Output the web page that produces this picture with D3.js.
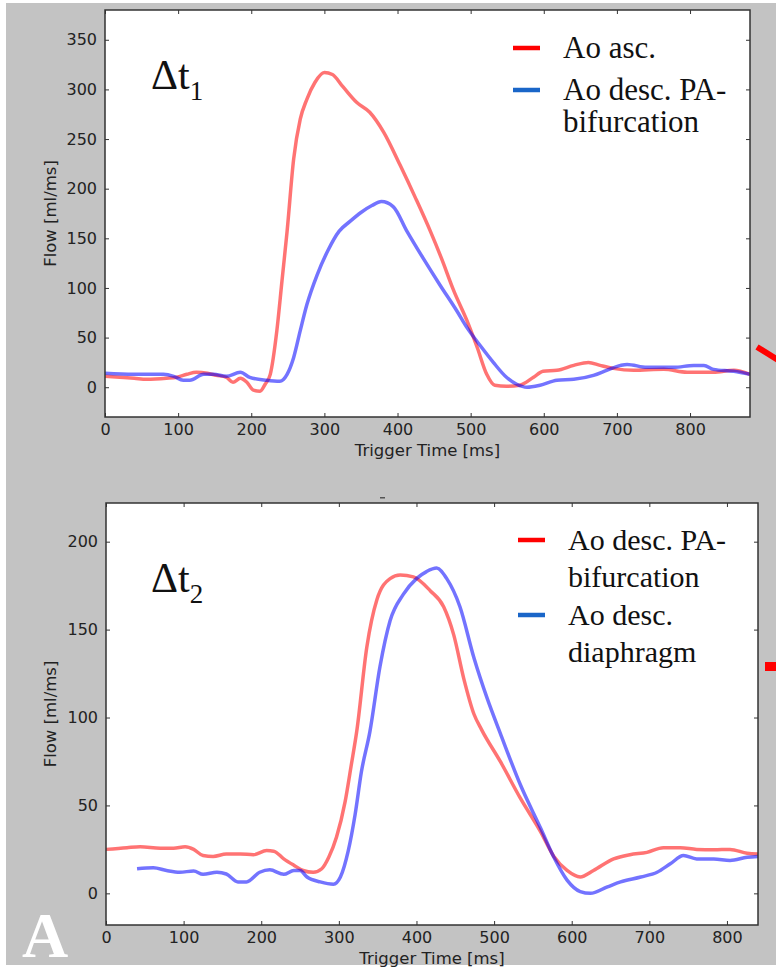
<!DOCTYPE html>
<html lang="en">
<head>
  <meta charset="UTF-8">
  <title>Flow curves</title>
  <script src="https://d3js.org/d3.v7.min.js"></script>
  <style>
    body { margin: 0; background: #fff; }
    svg { display: block; }
    .tick text { font-family: "DejaVu Sans", sans-serif; font-size: 16px; fill: #222; }
    .tick line { stroke: #333; stroke-width: 1; }
    .axis-label { font-family: "DejaVu Sans", sans-serif; font-size: 16.5px; fill: #222; }
    .serif { font-family: "Liberation Serif", "Times New Roman", serif; fill: #111; }
  </style>
</head>
<body>
<svg id="chart" width="776" height="970"></svg>
<script>
// panel 1: Ao asc. vs Ao desc. PA-bifurcation
const ascTime = [0, 20, 40, 57, 84, 98, 112, 125, 140, 152, 166, 175, 185, 194, 203, 212, 219, 226, 235, 242,
  249, 258, 267, 276, 287, 300, 311, 325, 344, 362, 381, 404, 425, 445, 460, 477, 495, 509, 522, 533,
  549, 567, 586, 599, 618, 641, 661, 677, 695, 723, 764, 796, 832, 860, 882];
const ascFlow = [11, 10, 9, 8, 9, 10, 13, 15, 14, 12, 10, 5, 9, 5, -3, -4, 3, 13, 57, 107,
  157, 230, 270, 290, 307, 317, 315, 303, 287, 277, 257, 223, 190, 157, 130, 97, 67, 40, 13, 2,
  1, 2, 10, 16, 17, 22, 25, 22, 19, 17, 18, 15, 15, 17, 13];
const paTime1 = [0, 39, 80, 94, 107, 116, 135, 148, 166, 185, 198, 221, 239, 249, 258, 267, 276, 290, 305, 320,
  335, 350, 365, 378, 394, 413, 435, 458, 481, 495, 513, 531, 549, 563, 577, 595, 618, 641, 668, 686,
  705, 714, 741, 778, 805, 819, 832, 860, 882];
const paFlow1 = [14, 13, 13, 11, 7, 7, 13, 13, 11, 15, 10, 7, 6, 13, 30, 57, 83, 113, 138, 157,
  167, 176, 183, 187, 182, 157, 130, 103, 77, 60, 42, 25, 10, 3, 0, 2, 7, 8, 12, 17,
  22, 23, 20, 20, 22, 22, 18, 16, 13];

// panel 2: Ao desc. PA-bifurcation vs Ao desc. diaphragm
const paTime2 = [0, 27, 44, 70, 87, 102, 113, 125, 138, 155, 173, 190, 207, 216, 229, 242, 254, 267, 278, 287,
  297, 308, 316, 323, 336, 349, 366, 379, 396, 418, 435, 448, 461, 474, 484, 508, 534, 560, 577, 594,
  611, 628, 654, 675, 697, 718, 740, 761, 783, 804, 826, 840];
const paFlow2 = [25, 26, 26.5, 25.7, 25.7, 26.5, 25, 21.5, 21, 22.4, 22.4, 22, 24.3, 24, 19.6, 16, 13, 12, 14, 20.5,
  32, 52, 73, 92, 140, 167, 179, 181, 180, 172, 163, 147, 122, 102, 93, 75, 54, 35, 21, 13,
  9.3, 13, 19.6, 22, 23.3, 26, 26, 25, 24.8, 25, 22.8, 22.4];
const diaTime = [40, 61, 78, 95, 113, 125, 143, 155, 170, 181, 198, 211, 229, 242, 250, 259, 276, 293, 302, 312,
  321, 329, 340, 353, 366, 383, 400, 413, 426, 439, 456, 474, 491, 508, 534, 560, 577, 594, 611, 624,
  646, 663, 689, 710, 727, 744, 761, 783, 804, 826, 840];
const diaFlow = [14, 14.6, 13, 12, 12.7, 10.8, 12, 11, 6.5, 6.5, 12, 13.4, 10.8, 13, 13, 9.3, 6.5, 5.2, 9.3, 24,
  45, 69, 92, 129, 155, 170, 179, 183, 185, 179, 163, 134, 111, 91, 61.6, 37, 20.5, 7.5, 1, 0,
  3.7, 6.5, 9.3, 12, 16.8, 21.5, 19.6, 19.6, 18.7, 20.5, 21];

const xTicks = [0, 100, 200, 300, 400, 500, 600, 700, 800];
const yTicks1 = [0, 50, 100, 150, 200, 250, 300, 350];
const yTicks2 = [0, 50, 100, 150, 200];
const legend1 = [["Ao asc."], ["Ao desc. PA-", "bifurcation"]];
const legend2 = [["Ao desc. PA-", "bifurcation"], ["Ao desc.", "diaphragm"]];

const svg = d3.select("#chart");

// gray page background
svg.append("rect").attr("x", 6).attr("y", 3).attr("width", 770).attr("height", 962).attr("fill", "#c3c3c3");

function panel(opt) {
  const x = d3.scaleLinear().domain(opt.xDomain).range([opt.left, opt.right]);
  const y = d3.scaleLinear().domain(opt.yDomain).range([opt.bottom, opt.top]);
  const w = opt.right - opt.left, h = opt.bottom - opt.top;

  svg.append("rect").attr("x", opt.left).attr("y", opt.top).attr("width", w).attr("height", h).attr("fill", "#fff");

  const clipId = "clip" + opt.id;
  svg.append("clipPath").attr("id", clipId)
    .append("rect").attr("x", opt.left).attr("y", opt.top).attr("width", w).attr("height", h);

  const line = d3.line().x(d => x(d[0])).y(d => y(d[1])).curve(d3.curveMonotoneX);
  const lines = svg.append("g").attr("clip-path", `url(#${clipId})`);
  opt.series.forEach(s => {
    lines.append("path")
      .datum(s.time.map((t, i) => [t, s.flow[i]]))
      .attr("d", line)
      .attr("fill", "none")
      .attr("stroke", s.color)
      .attr("stroke-opacity", 0.55)
      .attr("stroke-width", 3.5)
      .attr("stroke-linejoin", "round");
  });

  // axes with inward ticks, matplotlib classic look
  svg.append("g").attr("transform", `translate(0,${opt.bottom})`)
    .call(d3.axisBottom(x).tickValues(xTicks).tickSize(-4).tickPadding(7))
    .call(g => g.select(".domain").remove());
  svg.append("g").attr("transform", `translate(0,${opt.top})`)
    .call(d3.axisTop(x).tickValues(xTicks).tickSize(-4).tickFormat(""))
    .call(g => g.select(".domain").remove());
  svg.append("g").attr("transform", `translate(${opt.left},0)`)
    .call(d3.axisLeft(y).tickValues(opt.yTicks).tickSize(-4).tickPadding(8))
    .call(g => g.select(".domain").remove());
  svg.append("g").attr("transform", `translate(${opt.right},0)`)
    .call(d3.axisRight(y).tickValues(opt.yTicks).tickSize(-4).tickFormat(""))
    .call(g => g.select(".domain").remove());

  svg.append("rect").attr("x", opt.left).attr("y", opt.top).attr("width", w).attr("height", h)
    .attr("fill", "none").attr("stroke", "#333").attr("stroke-width", 1.5);

  svg.append("text").attr("class", "axis-label")
    .attr("x", (opt.left + opt.right) / 2).attr("y", opt.bottom + 39)
    .attr("text-anchor", "middle").text("Trigger Time [ms]");
  svg.append("text").attr("class", "axis-label")
    .attr("transform", `translate(56,${(opt.top + opt.bottom) / 2}) rotate(-90)`)
    .attr("text-anchor", "middle").text("Flow [ml/ms]");

  // Δt label
  const dt = svg.append("text").attr("class", "serif")
    .attr("x", 151).attr("y", opt.dtY).style("font-size", "42px");
  dt.append("tspan").text("\u0394t");
  dt.append("tspan").attr("dy", 11).style("font-size", "27px").text(opt.sub);

  // legend
  const lg = svg.append("g");
  let yy = opt.legY;
  opt.legend.forEach((lines, i) => {
    lg.append("line")
      .attr("x1", opt.legX - 50).attr("x2", opt.legX - 23)
      .attr("y1", yy - 10).attr("y2", yy - 10)
      .attr("stroke", opt.legColors[i]).attr("stroke-width", 4.5);
    lines.forEach((t, j) => {
      lg.append("text").attr("class", "serif")
        .attr("x", opt.legX).attr("y", yy + j * opt.legLine)
        .style("font-size", opt.legSize + "px").text(t);
    });
    yy += (lines.length - 1) * opt.legLine + opt.legGap;
  });
}

panel({
  id: 1, left: 105, right: 750, top: 10, bottom: 417,
  xDomain: [0, 882], yDomain: [-30, 380], yTicks: yTicks1,
  series: [
    { time: ascTime, flow: ascFlow, color: "#ff0000" },
    { time: paTime1, flow: paFlow1, color: "#0000ff" }
  ],
  sub: "1", dtY: 89,
  legend: legend1, legColors: ["#ff0000", "#1a66c8"],
  legX: 563, legY: 58, legLine: 32, legGap: 42, legSize: 31
});

panel({
  id: 2, left: 106, right: 758, top: 503, bottom: 925,
  xDomain: [0, 840], yDomain: [-18, 222], yTicks: yTicks2,
  series: [
    { time: paTime2, flow: paFlow2, color: "#ff0000" },
    { time: diaTime, flow: diaFlow, color: "#0000ff" }
  ],
  sub: "2", dtY: 592,
  legend: legend2, legColors: ["#ff0000", "#1a66c8"],
  legX: 568, legY: 550, legLine: 37, legGap: 38, legSize: 30
});

// panel letter and cropped arrow tips at the right edge
svg.append("text").attr("class", "serif")
  .attr("x", 22).attr("y", 957).style("font-size", "64px").style("font-weight", "bold")
  .style("fill", "#fff").text("A");
svg.append("line").attr("x1", 757).attr("y1", 347).attr("x2", 778).attr("y2", 360)
  .attr("stroke", "#ff0000").attr("stroke-width", 6);
svg.append("rect").attr("x", 765).attr("y", 662).attr("width", 11).attr("height", 9).attr("fill", "#ff0000");
svg.append("rect").attr("x", 380).attr("y", 497).attr("width", 5).attr("height", 1.5).attr("fill", "#555");
</script>
</body>
</html>
